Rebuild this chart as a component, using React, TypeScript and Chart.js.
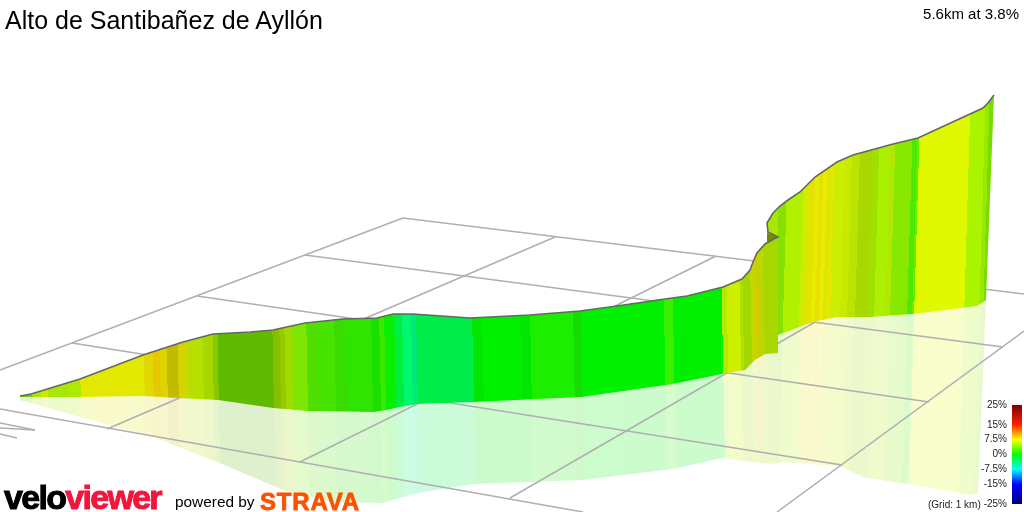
import React, { useEffect, useRef } from "react";
import { Chart, registerables } from "chart.js";

Chart.register(...registerables);

// ============================================================================
// DATA (x/y in the picture's ground-projection units)
// ============================================================================

const titleText = "Alto de Santibañez de Ayllón";
const summaryText = "5.6km at 3.8%";
const gridNote = "(Grid: 1 km)";

const lowerTop = [
  [20, 396], [31, 394], [80, 379], [143, 355], [183, 342], [213, 334], [250, 332], [273, 330],
  [305, 323], [343, 319], [377, 318], [393, 314], [413, 314], [470, 318], [530, 315], [580, 311],
  [617, 306], [665, 299], [687, 296], [723, 287], [742, 279], [750, 270], [753, 262], [757, 253],
  [765, 244], [772, 240], [778, 237],
];
const lowerBottom = [
  [20, 397], [80, 397], [143, 396], [177, 398], [218, 400], [273, 408], [307, 411], [373, 412],
  [387, 410], [400, 407], [418, 404], [473, 402], [582, 397], [673, 384], [722, 374], [745, 370],
  [755, 360], [765, 354], [778, 353],
];
const foldTop = [[767, 233], [778, 237]];
const foldBottom = [[767, 243], [778, 237]];
const upperTop = [
  [767, 223], [773, 213], [780, 206], [788, 200], [800, 192], [815, 177], [837, 162], [853, 155],
  [893, 144], [918, 138], [983, 108], [988, 103], [994, 95],
];
const upperBottom = [
  [767, 340], [778, 335], [813, 322], [837, 317], [870, 317], [913, 314], [977, 306], [986, 300],
  [994, 95],
];
const ridgeFold = [[768, 232]];
const shadowLowerTop = [
  [20, 397], [80, 397], [143, 396], [177, 398], [218, 400], [273, 408], [307, 411], [373, 412],
  [387, 410], [400, 407], [418, 404], [473, 402], [582, 397], [673, 384], [722, 374], [778, 335],
];
const shadowLowerEdge = [
  [20, 400], [80, 417], [153, 437], [217, 462], [283, 490], [333, 502], [383, 503], [400, 498],
  [418, 493], [473, 484], [582, 480], [673, 469], [722, 458], [743, 461], [770, 464], [778, 463],
];
const shadowUpperTop = [[778, 335], [813, 322], [837, 317], [870, 317], [913, 314], [977, 306], [986, 298]];
const shadowUpperEdge = [
  [778, 463], [782, 462], [813, 464], [842, 467], [863, 477], [900, 483], [910, 484], [970, 495],
  [978, 493], [986, 298],
];

const lowerBandEnds = [
  31, 40, 47, 68, 80, 144, 153, 160, 167, 178, 187, 203, 213, 218, 273, 280, 285, 293, 307, 318,
  335, 346, 372, 380, 385, 395, 403, 412, 417, 473, 483, 521, 531, 574, 582, 618, 665, 674, 687,
  723, 728, 741, 744, 752, 757, 760, 765, 778,
];
const lowerBandColors = [
  "#5fd60a", "#a9e600", "#cfe600", "#a8e800", "#aeea00", "#e3e800", "#e0d800", "#e5c800", "#dcd300",
  "#c2bb00", "#d3d400", "#b6e000", "#a6d800", "#88c800", "#5fba00", "#84c000", "#9ac800", "#9edc00",
  "#7ee600", "#50de00", "#48e400", "#38dc00", "#2ee400", "#1ae000", "#3ae800", "#08f000", "#00ee40",
  "#00f870", "#00e878", "#00ec48", "#00e600", "#00f000", "#00e800", "#1cee00", "#18dc00", "#00f200",
  "#00f000", "#38f000", "#00ee00", "#00f000", "#b8e800", "#ccf000", "#b0e000", "#a0d800", "#c4d800",
  "#d8c800", "#b8d800", "#a8d800",
];
const upperBandEnds = [
  778, 786, 802, 805, 810, 814, 818, 822, 826, 830, 833, 843, 850, 858, 870, 877, 888, 893, 910,
  915, 917, 967, 982, 986, 995,
];
const upperBandColors = [
  "#a8e800", "#88e000", "#b0f000", "#c8ee00", "#d8e800", "#e8e000", "#e4ec00", "#e8e000", "#e8ec00",
  "#dce600", "#e4e800", "#ccee00", "#c8ea00", "#b8e400", "#a8d800", "#a0e000", "#aaf000", "#b0e800",
  "#88e800", "#50e800", "#60f000", "#e0f800", "#aaf400", "#98e800", "#78dc00",
];

const gridLines = [
  [403, 218, 1024, 294],
  [0, 370, 403, 218],
  [305, 255, 1003, 347],
  [197, 296, 929, 402],
  [72, 343, 842, 465],
  [0, 409, 583, 512],
  [107, 429, 555, 237],
  [300, 462, 716, 256],
  [510, 498, 815, 322],
  [777, 512, 1024, 331],
  [0, 423, 35, 430],
  [0, 428, 35, 430],
  [0, 434, 17, 438],
];

const gradeTicks = [25, 15, 7.5, 0, -7.5, -15, -25];
const gradeStops = [25, 15, 7.5, 0, -7.5, -15, -25];
const gradeColors = ["#7f0000", "#ff2000", "#ffff00", "#00ff00", "#00ffff", "#0000ff", "#00007f"];

// ============================================================================
// HELPERS
// ============================================================================

const pts = (list: number[][]) => list.map(([x, y]) => ({ x, y }));

// hard-stop gradient so one filled polygon can carry all the vertical bands
const bandFill =
  (startX: number, ends: number[], colors: string[], lean: number, refY: number, alpha = "") =>
  (ctx: any) => {
    if (!ctx.chart.chartArea) return "transparent"; // scales not laid out yet
    const { x, y } = ctx.chart.scales;
    const x0 = x.getPixelForValue(0);
    const x1 = x.getPixelForValue(1024);
    const y0 = y.getPixelForValue(refY);
    const grad = ctx.chart.ctx.createLinearGradient(x0, y0, x1, y0 - (x1 - x0) * lean);
    const stop = (v: number) => Math.min(1, Math.max(0, v / (1024 * (1 + lean * lean))));
    let prev = startX;
    colors.forEach((c, i) => {
      grad.addColorStop(stop(prev), c + alpha);
      grad.addColorStop(stop(ends[i]), c + alpha);
      prev = ends[i];
    });
    return grad;
  };

const edge = (list: number[][], extra: any = {}) => ({
  data: pts(list),
  borderWidth: 0,
  pointRadius: 0,
  fill: false,
  ...extra,
});

const lowerFill = bandFill(20, lowerBandEnds, lowerBandColors, 0.02, 360);
const upperFill = bandFill(767, upperBandEnds, upperBandColors, -0.03, 218);
const lowerShadow = bandFill(20, lowerBandEnds, lowerBandColors, 0.02, 360, "33");
const upperShadow = bandFill(767, upperBandEnds, upperBandColors, -0.03, 218, "33");

const textStyle: React.CSSProperties = {
  position: "absolute",
  fontFamily: "'Liberation Sans', Arial, sans-serif",
  whiteSpace: "nowrap",
  lineHeight: 1,
  color: "#000",
};

// ============================================================================
// COMPONENT
// ============================================================================

export default function App() {
  const mainRef = useRef<HTMLCanvasElement | null>(null);
  const scaleRef = useRef<HTMLCanvasElement | null>(null);

  useEffect(() => {
    if (!mainRef.current || !scaleRef.current) return;

    const ridge = pts([...lowerTop, ...ridgeFold, ...upperTop]);

    const main = new Chart(mainRef.current, {
      type: "line",
      data: {
        datasets: [
          { data: ridge, borderColor: "#666666", borderWidth: 1.6, pointRadius: 0, fill: false },
          edge(lowerTop, { fill: "+1", backgroundColor: lowerFill }),
          edge(lowerBottom),
          edge(foldTop, { fill: "+1", backgroundColor: "#6f8c00" }),
          edge(foldBottom),
          edge(upperTop, { fill: "+1", backgroundColor: upperFill }),
          edge(upperBottom),
          ...gridLines.map((g) => ({
            data: pts([[g[0], g[1]], [g[2], g[3]]]),
            borderColor: "#b0aeb0",
            borderWidth: 1.5,
            pointRadius: 0,
            fill: false,
          })),
          edge(shadowLowerTop, { fill: "+1", backgroundColor: lowerShadow }),
          edge(shadowLowerEdge),
          edge(shadowUpperTop, { fill: "+1", backgroundColor: upperShadow }),
          edge(shadowUpperEdge),
        ],
      },
      options: {
        responsive: false,
        animation: false,
        layout: { padding: 0 },
        plugins: { legend: { display: false }, tooltip: { enabled: false } },
        scales: {
          x: { type: "linear", min: 0, max: 1024, display: false },
          y: { type: "linear", min: 0, max: 512, reverse: true, display: false },
        },
      },
    } as any);

    const scale = new Chart(scaleRef.current, {
      type: "bar",
      data: {
        labels: ["grade"],
        datasets: [
          {
            data: [[-25, 25]],
            barPercentage: 1,
            categoryPercentage: 1,
            backgroundColor: (ctx: any) => {
              if (!ctx.chart.chartArea) return "transparent";
              const { y } = ctx.chart.scales;
              const grad = ctx.chart.ctx.createLinearGradient(0, y.getPixelForValue(25), 0, y.getPixelForValue(-25));
              gradeStops.forEach((g, i) => grad.addColorStop((25 - g) / 50, gradeColors[i]));
              return grad;
            },
          },
        ],
      },
      options: {
        responsive: false,
        animation: false,
        layout: { padding: { top: 10, bottom: 8, right: 2 } },
        plugins: { legend: { display: false }, tooltip: { enabled: false } },
        scales: {
          x: { display: false },
          y: {
            min: -25,
            max: 25,
            border: { display: false },
            grid: { display: false, drawTicks: false },
            afterBuildTicks: (axis: any) => {
              axis.ticks = gradeTicks.map((value) => ({ value }));
            },
            afterFit: (axis: any) => {
              axis.width = 52;
              axis.paddingBottom = 0;
              axis.paddingTop = 0;
            },
            ticks: {
              padding: 5,
              color: "#222",
              font: { family: "'Liberation Sans'", size: 10 },
              callback: (v: any) => v + "%",
            },
          },
        },
      },
    } as any);

    return () => {
      main.destroy();
      scale.destroy();
    };
  }, []);

  return (
    <div style={{ position: "fixed", left: 0, top: 0, width: 1024, height: 512, overflow: "hidden", background: "#fff" }}>
      <canvas ref={mainRef} width={1024} height={512} style={{ position: "absolute", left: 0, top: 0 }} />
      <canvas ref={scaleRef} width={64} height={117} style={{ position: "absolute", left: 960, top: 395 }} />

      <div style={{ ...textStyle, left: 5, top: 8, fontSize: 25 }}>{titleText}</div>
      <div style={{ ...textStyle, right: 5, top: 6, fontSize: 15 }}>{summaryText}</div>
      <div style={{ ...textStyle, left: 928, top: 500, fontSize: 10, color: "#222" }}>{gridNote}</div>

      <div style={{ ...textStyle, left: 4, top: 480, fontSize: 34, fontWeight: 700, letterSpacing: -1.7 }}>
        <span style={{ color: "#000", WebkitTextStroke: "1px #000" }}>velo</span>
        <span style={{ color: "#f5143c", WebkitTextStroke: "1px #f5143c" }}>viewer</span>
      </div>
      <div style={{ ...textStyle, left: 175, top: 494, fontSize: 15.4 }}>powered by</div>
      <div
        style={{
          ...textStyle,
          left: 260,
          top: 490,
          fontSize: 24,
          fontWeight: 700,
          letterSpacing: 0.8,
          color: "#fc5200",
          WebkitTextStroke: "0.8px #fc5200",
        }}
      >
        STRAVA
      </div>
    </div>
  );
}
